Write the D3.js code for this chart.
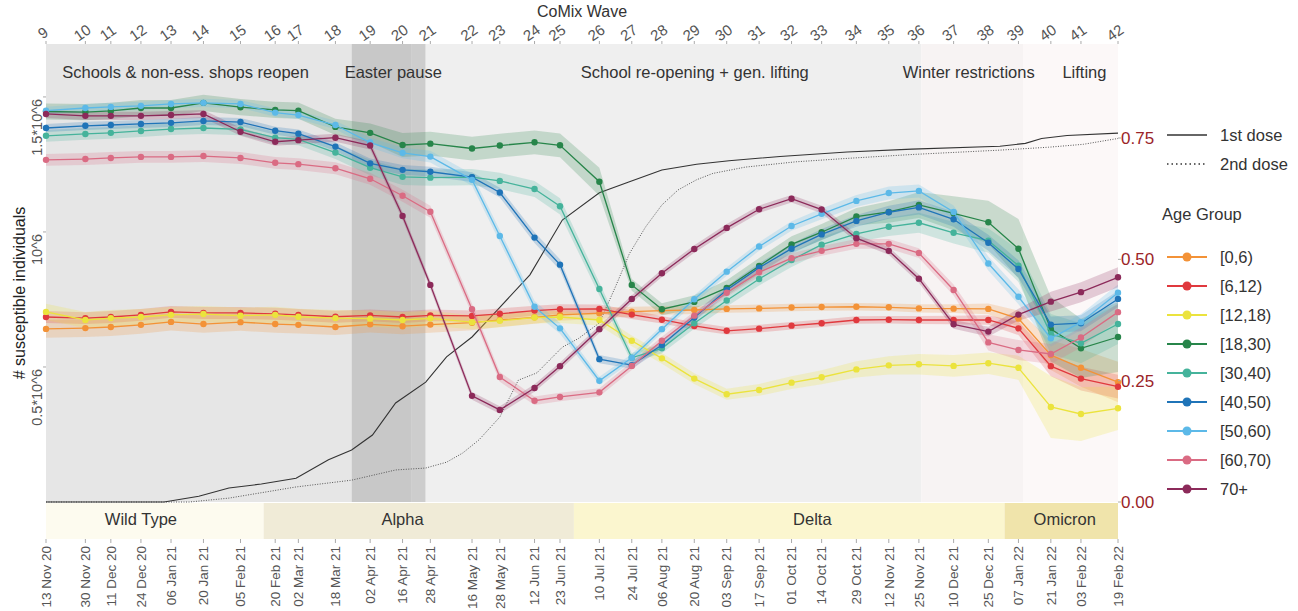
<!DOCTYPE html>
<html>
<head>
<meta charset="utf-8">
<script src="https://cdn.jsdelivr.net/npm/d3@7"></script>
<style>
  body { margin: 0; background: #fff; font-family: "Liberation Sans", Arial, sans-serif; }
</style>
</head>
<body>
<div id="chart"></div>
<script>
// waves and their dates
const waves = d3.range(9, 43);
const waveDates = ["2020-11-13","2020-11-30","2020-12-11","2020-12-24","2021-01-06","2021-01-20","2021-02-05",
  "2021-02-20","2021-03-02","2021-03-18","2021-04-02","2021-04-16","2021-04-28","2021-05-16","2021-05-28",
  "2021-06-12","2021-06-23","2021-07-10","2021-07-24","2021-08-06","2021-08-20","2021-09-03","2021-09-17",
  "2021-10-01","2021-10-14","2021-10-29","2021-11-12","2021-11-25","2021-12-10","2021-12-25","2022-01-07",
  "2022-01-21","2022-02-03","2022-02-19"];

// susceptible individuals (thousands) per age group
const ageGroups = ["[0,6)","[6,12)","[12,18)","[18,30)","[30,40)","[40,50)","[50,60)","[60,70)","70+"];
const sus0_6 = [641,644,648,656,667,659,666,659,656,648,658,651,657,664,674,684,693,699,705,709,711,715,717,720,722,723,721,717,716,715,679,544,497,444];
const sus6_12 = [685,681,685,693,704,700,700,697,693,686,691,685,691,689,697,709,714,715,694,675,652,634,642,653,662,674,675,674,674,674,643,503,457,427];
const sus12_18 = [704,674,681,685,693,696,690,693,686,681,679,674,680,666,671,683,685,674,597,532,457,399,415,442,462,491,506,510,504,514,497,352,326,347];
const sus18_30 = [1446,1444,1448,1459,1459,1478,1462,1452,1449,1389,1367,1322,1327,1309,1320,1332,1321,1186,804,714,741,793,874,954,999,1057,1074,1100,1069,1036,938,640,569,611];
const sus30_40 = [1356,1363,1367,1374,1381,1385,1380,1349,1343,1294,1238,1204,1201,1203,1189,1159,1095,789,534,569,662,746,826,896,953,993,1019,1034,997,968,875,622,588,659];
const sus40_50 = [1385,1393,1396,1400,1404,1411,1407,1375,1364,1316,1254,1230,1223,1203,1146,979,879,529,507,581,683,785,868,938,991,1041,1073,1091,1047,960,863,657,662,752];
const sus50_60 = [1449,1459,1463,1467,1474,1478,1474,1442,1433,1396,1331,1293,1279,1193,985,723,643,449,534,640,751,853,946,1022,1067,1115,1144,1152,1074,883,760,606,666,775];
const sus60_70 = [1267,1270,1274,1278,1278,1281,1274,1256,1251,1236,1197,1134,1075,714,463,375,389,406,504,597,690,775,851,903,930,956,956,922,785,591,563,548,609,703];
const sus70 = [1437,1430,1430,1430,1433,1437,1371,1334,1340,1349,1320,1059,804,393,341,422,503,640,752,847,937,1015,1084,1123,1083,977,930,827,658,631,694,742,777,832];

// half width of the uncertainty band (thousands)
const ci0_6 = [33,33,33,33,32,32,32,32,32,30,30,30,30,28,26,24,22,20,18,16,15,14,14,14,14,14,14,15,16,20,30,55,70,75];
const ci6_12 = [22,22,22,22,22,22,22,22,22,22,22,22,22,20,20,18,18,16,16,14,14,14,14,14,14,14,14,15,16,18,25,37,44,44];
const ci12_18 = [30,30,30,30,30,30,30,30,30,30,30,30,28,26,24,22,22,20,20,20,20,20,22,24,26,30,34,38,40,40,45,115,100,80];
const ci18_30 = [30,30,30,30,30,30,30,30,30,30,35,44,44,44,44,44,44,52,22,22,25,28,30,30,30,32,40,48,63,80,110,120,110,130];
const ci30_40 = [22,22,22,22,22,22,22,22,22,24,28,30,30,30,30,30,30,24,18,18,20,22,24,26,28,30,34,37,40,45,60,74,74,74];
const ci40_50 = [15,15,15,15,15,15,15,15,15,16,18,18,18,18,18,20,20,15,14,14,15,15,16,18,20,22,24,26,28,30,32,30,30,30];
const ci50_60 = [15,15,15,15,15,15,15,15,15,16,18,20,22,22,22,22,20,15,14,14,15,15,16,18,20,22,24,24,24,26,28,30,30,30];
const ci60_70 = [22,22,22,22,22,22,22,22,22,22,22,22,22,20,18,16,16,15,15,15,15,15,16,18,18,18,18,18,20,30,37,37,37,30];
const ci70 = [15,15,15,15,15,15,15,15,15,15,15,15,15,14,14,14,14,14,14,14,14,14,14,14,14,14,14,15,16,18,22,37,37,37];

// vaccination coverage (fraction)
const dose1Dates = ["2020-11-13","2021-01-03","2021-01-18","2021-01-31","2021-02-14","2021-03-01","2021-03-15","2021-03-25",
  "2021-04-03","2021-04-13","2021-04-26","2021-05-05","2021-05-16","2021-05-27","2021-06-10","2021-06-24","2021-07-10",
  "2021-07-23","2021-08-06","2021-08-21","2021-09-04","2021-09-26","2021-10-25","2021-11-22","2021-12-30","2022-01-10",
  "2022-01-17","2022-01-28","2022-02-19"];
const dose1 = [0,0,0.012,0.029,0.037,0.049,0.087,0.107,0.138,0.204,0.247,0.299,0.340,0.396,0.468,0.581,0.637,
  0.660,0.684,0.696,0.703,0.712,0.721,0.727,0.733,0.739,0.749,0.755,0.760];
const dose2Dates = ["2020-11-13","2021-01-14","2021-01-31","2021-03-01","2021-03-25","2021-04-13","2021-04-26","2021-05-05",
  "2021-05-12","2021-05-19","2021-05-28","2021-06-05","2021-06-13","2021-06-24","2021-07-01","2021-07-10","2021-07-17",
  "2021-07-23","2021-07-30","2021-08-06","2021-08-13","2021-08-21","2021-08-28","2021-09-11","2021-10-03","2021-10-25",
  "2021-11-22","2021-12-30","2022-01-20","2022-02-04","2022-02-19"];
const dose2 = [0,0,0.008,0.031,0.045,0.066,0.070,0.082,0.101,0.128,0.175,0.251,0.266,0.319,0.337,0.369,0.444,
  0.512,0.567,0.612,0.643,0.664,0.677,0.690,0.701,0.708,0.716,0.725,0.731,0.737,0.749];

// policy periods and variants
const periodLabels = ["Schools & non-ess. shops reopen","Easter pause","","School re-opening + gen. lifting","Winter restrictions","Lifting"];
const periodStarts = ["2020-11-13","2021-03-25","2021-04-20","2021-04-26","2021-11-26","2022-01-09"];
const periodEnds = ["2021-03-25","2021-04-20","2021-04-26","2021-11-26","2022-01-09","2022-02-19"];
const periodLabelDates = ["2020-11-20","2021-03-22","","2021-07-02","2021-11-18","2022-01-26"];
const variantLabels = ["Wild Type","Alpha","Delta","Omicron"];
const variantStarts = ["2020-11-13","2021-02-15","2021-06-29","2022-01-01"];
const variantEnds = ["2021-02-15","2021-06-29","2022-01-01","2022-02-19"];
const variantLabelDates = ["2020-12-24","2021-04-16","2021-10-10","2022-01-27"];

const rightTicks = [0, 0.25, 0.5, 0.75];
const leftTicks = [500, 1000, 1500];
const leftTickLabels = ["0.5*10^6", "10^6", "1.5*10^6"];

// styles
const seriesColors = ["#f39237","#e0393e","#ebe33d","#27854a","#45b39b","#1f74b8","#5cb9e8","#da6b83","#8c2a5a"];
const periodColors = ["#e6e6e6","#c8c8c8","#cdcdcd","#efefef","#f7f3f3","#fcf8f8"];
const variantColors = ["#fdfbef","#f0ebd7","#fbf6cf","#f0e4ab"];

const seriesVals = [sus0_6, sus6_12, sus12_18, sus18_30, sus30_40, sus40_50, sus50_60, sus60_70, sus70];
const seriesCi = [ci0_6, ci6_12, ci12_18, ci18_30, ci30_40, ci40_50, ci50_60, ci60_70, ci70];

const parse = d3.timeParse("%Y-%m-%d");
const fmt = d3.timeFormat("%d %b %y");
const dates = waveDates.map(parse);

const W = 1298, H = 611;
const mLeft = 46, mRight = 1118, mTop = 44, mBottom = 502;

const svg = d3.select("#chart").append("svg")
  .attr("width", W).attr("height", H)
  .style("font-family", "'Liberation Sans', Arial, sans-serif");

const x = d3.scaleTime().domain([parse("2020-11-13"), parse("2022-02-19")]).range([mLeft, mRight]);
const y = d3.scaleLinear().domain([0, 1696]).range([mBottom, mTop]);
const yR = d3.scaleLinear().domain([0, 0.75]).range([mBottom, 138]);

// background policy periods
periodStarts.forEach((s, i) => {
  svg.append("rect")
    .attr("x", x(parse(s))).attr("y", mTop)
    .attr("width", x(parse(periodEnds[i])) - x(parse(s)))
    .attr("height", mBottom - mTop)
    .attr("fill", periodColors[i]);
});
periodLabels.forEach((lab, i) => {
  if (!lab) return;
  svg.append("text")
    .attr("x", x(parse(periodLabelDates[i]))).attr("y", 78)
    .style("font-size", "16.5px").attr("fill", "#333")
    .text(lab);
});

// variant band
variantStarts.forEach((s, i) => {
  svg.append("rect")
    .attr("x", x(parse(s))).attr("y", mBottom + 1)
    .attr("width", x(parse(variantEnds[i])) - x(parse(s)))
    .attr("height", 36)
    .attr("fill", variantColors[i]);
  svg.append("text")
    .attr("x", x(parse(variantLabelDates[i]))).attr("y", 521)
    .attr("text-anchor", "middle").attr("dominant-baseline", "middle")
    .style("font-size", "16.5px").attr("fill", "#333")
    .text(variantLabels[i]);
});

// vaccination lines
const vline = d3.line().x(d => x(d[0])).y(d => yR(d[1]));
svg.append("path")
  .attr("d", vline(dose2Dates.map((d, i) => [parse(d), dose2[i]])))
  .attr("fill", "none").attr("stroke", "#555").attr("stroke-width", 1)
  .attr("stroke-dasharray", "1,1.5");
svg.append("path")
  .attr("d", vline(dose1Dates.map((d, i) => [parse(d), dose1[i]])))
  .attr("fill", "none").attr("stroke", "#333").attr("stroke-width", 1.1);

// uncertainty bands
const area = d3.area()
  .x((d, i) => x(dates[i]))
  .y0(d => y(d[0] - d[1]))
  .y1(d => y(d[0] + d[1]));
seriesVals.forEach((vals, s) => {
  svg.append("path")
    .attr("d", area(vals.map((v, i) => [v, seriesCi[s][i]])))
    .attr("fill", seriesColors[s]).attr("fill-opacity", 0.22);
});

// lines + points
const line = d3.line().x((d, i) => x(dates[i])).y(d => y(d));
seriesVals.forEach((vals, s) => {
  const g = svg.append("g");
  g.append("path")
    .attr("d", line(vals))
    .attr("fill", "none").attr("stroke", seriesColors[s]).attr("stroke-width", 1.3);
  g.selectAll("circle").data(vals).enter().append("circle")
    .attr("cx", (d, i) => x(dates[i]))
    .attr("cy", d => y(d))
    .attr("r", 3.2)
    .attr("fill", seriesColors[s]);
});

// top axis: waves
svg.append("text")
  .attr("x", 582).attr("y", 17).attr("text-anchor", "middle")
  .style("font-size", "16px").attr("fill", "#333").text("CoMix Wave");
waves.forEach((w, i) => {
  const xx = x(dates[i]);
  svg.append("line").attr("x1", xx).attr("x2", xx).attr("y1", mTop - 3).attr("y2", mTop)
    .attr("stroke", "#aaa");
  svg.append("text")
    .attr("transform", `translate(${xx},37) rotate(-35)`)
    .attr("text-anchor", "middle")
    .style("font-size", "15px").attr("fill", "#555")
    .text(w);
});

// bottom axis: dates
dates.forEach(d => {
  const xx = x(d);
  svg.append("line").attr("x1", xx).attr("x2", xx).attr("y1", 539).attr("y2", 543)
    .attr("stroke", "#aaa");
  svg.append("text")
    .attr("transform", `translate(${xx},546) rotate(-90)`)
    .attr("text-anchor", "end").attr("dy", "0.35em")
    .style("font-size", "13.5px").attr("fill", "#555")
    .text(fmt(d));
});

// left axis
leftTicks.forEach((t, i) => {
  svg.append("line").attr("x1", mLeft - 3).attr("x2", mLeft).attr("y1", y(t)).attr("y2", y(t))
    .attr("stroke", "#aaa");
  svg.append("text")
    .attr("transform", `translate(42,${y(t) + 2}) rotate(-90)`)
    .attr("text-anchor", "end")
    .style("font-size", "14.5px").attr("fill", "#555")
    .text(leftTickLabels[i]);
});
svg.append("text")
  .attr("transform", "translate(25,293) rotate(-90)")
  .attr("text-anchor", "middle")
  .style("font-size", "16px").attr("fill", "#222")
  .text("# susceptible individuals");

// right axis
rightTicks.forEach(t => {
  svg.append("line").attr("x1", mRight).attr("x2", mRight + 3).attr("y1", yR(t)).attr("y2", yR(t))
    .attr("stroke", "#aaa");
  svg.append("text")
    .attr("x", mRight + 3).attr("y", yR(t)).attr("dy", "0.35em")
    .style("font-size", "17px").attr("fill", "#9b2428")
    .text(t.toFixed(2));
});

// legend
const lg = svg.append("g");
[["1st dose", null], ["2nd dose", "1.5,3"]].forEach((d, i) => {
  const yy = 135 + i * 29;
  lg.append("line").attr("x1", 1167).attr("x2", 1207).attr("y1", yy).attr("y2", yy)
    .attr("stroke", "#333").attr("stroke-width", 1.5)
    .attr("stroke-dasharray", d[1]);
  lg.append("text").attr("x", 1220).attr("y", yy).attr("dy", "0.35em")
    .style("font-size", "16.5px").attr("fill", "#333").text(d[0]);
});
lg.append("text").attr("x", 1162).attr("y", 214).attr("dy", "0.35em")
  .style("font-size", "16.5px").attr("fill", "#333").text("Age Group");
ageGroups.forEach((a, i) => {
  const yy = 257 + i * 29;
  lg.append("line").attr("x1", 1167).attr("x2", 1207).attr("y1", yy).attr("y2", yy)
    .attr("stroke", seriesColors[i]).attr("stroke-width", 2);
  lg.append("circle").attr("cx", 1187).attr("cy", yy).attr("r", 4.5).attr("fill", seriesColors[i]);
  lg.append("text").attr("x", 1220).attr("y", yy).attr("dy", "0.35em")
    .style("font-size", "16.5px").attr("fill", "#333").text(a);
});
</script>
</body>
</html>
